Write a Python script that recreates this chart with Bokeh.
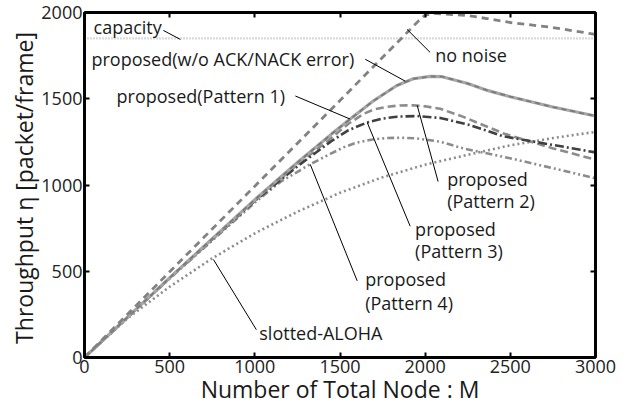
from bokeh.plotting import figure
from bokeh.models import Range1d, LinearAxis, FixedTicker, CustomJSTickFormatter
from bokeh.core.properties import value
from bokeh.embed import file_html
from bokeh.resources import INLINE

# ---------------- data ----------------
x_ticks = [0, 500, 1000, 1500, 2000, 2500, 3000]
y_ticks = [0, 500, 1000, 1500, 2000]

capacity_M = [0, 3000]
capacity_eta = [1850, 1850]

noise_M = [0, 500, 1000, 1500, 1900, 1960, 2000, 2050, 2250, 2500, 2750, 3000]
noise_eta = [0, 497, 993, 1490, 1890, 1950, 1985, 1995, 1983, 1942, 1913, 1873]

noack_M = [0, 500, 1000, 1250, 1450, 1560, 1695, 1834, 1930, 2030, 2100, 2250, 2370, 2500, 2750, 3000]
noack_eta = [0, 462, 915, 1130, 1295, 1382, 1487, 1577, 1616, 1630, 1628, 1588, 1547, 1512, 1452, 1400]

p1_M = [0, 500, 1000, 1250, 1450, 1560, 1695, 1834, 1930, 2030, 2100, 2250, 2370, 2500, 2750, 3000]
p1_eta = [0, 462, 915, 1130, 1295, 1382, 1487, 1577, 1616, 1630, 1628, 1588, 1547, 1512, 1452, 1400]

p2_M = [0, 500, 1000, 1250, 1443, 1550, 1638, 1700, 1775, 1850, 1931, 2000, 2088, 2224, 2460, 2752, 3000]
p2_eta = [0, 462, 912, 1118, 1268, 1355, 1412, 1438, 1453, 1461, 1462, 1456, 1442, 1395, 1299, 1212, 1147]

p3_M = [0, 500, 1000, 1250, 1443, 1550, 1658, 1750, 1834, 1951, 2088, 2264, 2460, 2752, 3000]
p3_eta = [0, 460, 908, 1108, 1250, 1318, 1362, 1385, 1396, 1400, 1389, 1347, 1282, 1232, 1189]

p4_M = [0, 500, 1000, 1150, 1325, 1443, 1520, 1599, 1690, 1775, 1860, 1951, 2088, 2224, 2499, 2752, 3000]
p4_eta = [0, 458, 898, 1018, 1120, 1180, 1218, 1246, 1264, 1272, 1274, 1270, 1251, 1212, 1155, 1097, 1039]

aloha_M = [0, 250, 500, 750, 1000, 1250, 1500, 1750, 2000, 2250, 2500, 2750, 3000]
aloha_eta = [0, 225, 410, 575, 720, 845, 955, 1045, 1118, 1175, 1230, 1272, 1308]

# annotation texts (left x, centre y in data units) and leader lines
ann_text = ["capacity", "proposed(w/o ACK/NACK error)", "proposed(Pattern 1)", "no noise",
            "proposed", "(Pattern 2)", "proposed", "(Pattern 3)", "proposed", "(Pattern 4)",
            "slotted-ALOHA"]
ann_x = [53, 41, 188, 2059, 2129, 2129, 1941, 1941, 1648, 1648, 1026]
ann_y = [1914, 1729, 1516, 1752, 1032, 905, 744, 617, 455, 317, 144]

lead_x0 = [463, 1648, 1238, 2029, 1953, 1660, 1325, 757]
lead_y0 = [1896, 1729, 1516, 1769, 1462, 1362, 1120, 568]
lead_x1 = [563, 1883, 1560, 1894, 2076, 1912, 1601, 1009]
lead_y1 = [1844, 1602, 1382, 1902, 1020, 761, 444, 161]

FONT = "Open Sans"

p = figure(width=635, height=408, output_backend="svg", toolbar_location=None,
           x_range=Range1d(0, 3000), y_range=Range1d(0, 2000),
           min_border_left=84, min_border_right=40, min_border_top=12, min_border_bottom=51)
p.xgrid.visible = False
p.ygrid.visible = False
p.outline_line_color = "black"
p.outline_line_width = 2.5
p.background_fill_color = "white"
p.border_fill_color = "white"

def style_axis(ax, ticks, show_labels):
    ax.ticker = FixedTicker(ticks=ticks)
    ax.axis_line_color = "black"
    ax.axis_line_width = 2.8
    ax.major_tick_in = 5
    ax.major_tick_out = 0
    ax.major_tick_line_width = 2
    ax.major_tick_line_color = "black"
    ax.minor_tick_line_color = None
    if show_labels:
        ax.major_label_text_font = FONT
        ax.major_label_text_font_size = "18px"
        ax.major_label_text_color = "#222222"
        ax.major_label_standoff = 2
        ax.axis_label_text_font = FONT
        ax.axis_label_text_font_size = "23px"
        ax.axis_label_text_font_style = "normal"
        ax.axis_label_text_color = "#1a1a1a"
    else:
        ax.formatter = CustomJSTickFormatter(code="return ''")
        ax.major_label_text_font_size = "1px"
        ax.major_label_standoff = 0

xa = p.xaxis[0]
ya = p.yaxis[0]
style_axis(xa, x_ticks, True)
style_axis(ya, y_ticks, True)
xa.axis_label = "Number of Total Node : M"
xa.axis_label_standoff = -3
ya.axis_label = "Throughput  η [packet/frame]"
ya.axis_label_standoff = -2

top = LinearAxis()
style_axis(top, x_ticks, False)
p.add_layout(top, "above")
right = LinearAxis()
style_axis(right, y_ticks, False)
p.add_layout(right, "right")

# curves
p.line(capacity_M, capacity_eta, line_color="#b4b4b4", line_width=2.2, line_dash="1 2")
p.line(aloha_M, aloha_eta, line_color="#8c8c8c", line_width=2.6, line_dash="2 3")
p.line(p4_M, p4_eta, line_color="#8c8c8c", line_width=2.6, line_dash="7 3 2 3 2 3")
p.line(p2_M, p2_eta, line_color="#8c8c8c", line_width=2.6, line_dash="8 4")
p.line(p3_M, p3_eta, line_color="#404040", line_width=2.6, line_dash="9 3 2 3")
p.line(noack_M, noack_eta, line_color="#a6a6a6", line_width=3.2)
p.line(p1_M, p1_eta, line_color="#7a7a7a", line_width=1.8, line_dash="5 4")
p.line(noise_M, noise_eta, line_color="#828282", line_width=2.8, line_dash="7 5")

# annotations
p.segment(lead_x0, lead_y0, lead_x1, lead_y1, line_color="black", line_width=1)
p.text(ann_x, ann_y, text=ann_text, text_font=value(FONT), text_font_size="18px",
       text_align="left", text_baseline="middle", text_color="#1a1a1a")

open("out.html", "w").write(file_html(p, INLINE))
